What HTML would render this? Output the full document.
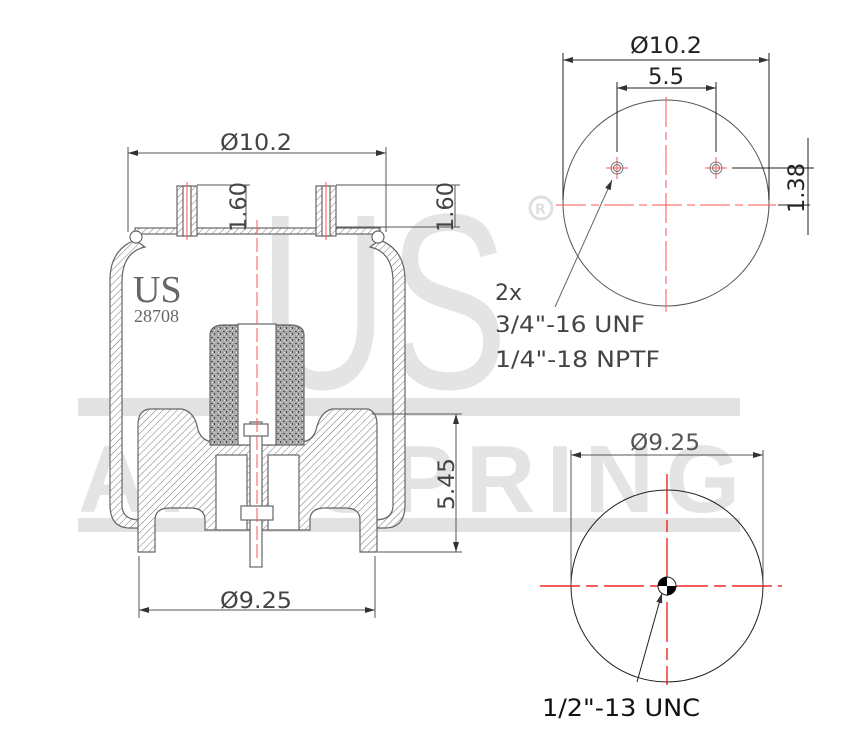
<!DOCTYPE html>
<html><head><meta charset="utf-8"><style>
html,body{margin:0;padding:0;background:#fff}
svg{display:block}
text{font-family:"DejaVu Sans","Liberation Sans",sans-serif}
</style></head><body>
<svg width="850" height="750" viewBox="0 0 850 750" xmlns="http://www.w3.org/2000/svg">
<defs>
<pattern id="h" width="5" height="5" patternUnits="userSpaceOnUse" patternTransform="rotate(45)">
<rect width="5" height="5" fill="#fff"/><line x1="0" y1="0" x2="0" y2="5" stroke="#777" stroke-width="1"/>
</pattern>
<pattern id="n" width="6" height="6" patternUnits="userSpaceOnUse">
<rect width="6" height="6" fill="#aaa"/><rect x="1" y="1" width="2" height="1" fill="#555"/><rect x="4" y="3" width="1" height="2" fill="#444"/><rect x="2" y="4" width="1" height="1" fill="#eee"/><rect x="4" y="0" width="1" height="1" fill="#ddd"/>
</pattern>
<marker id="a" viewBox="0 0 10 6" refX="10" refY="3" markerWidth="10" markerHeight="6" orient="auto-start-reverse" markerUnits="userSpaceOnUse"><path d="M0,0 L10,3 L0,6 z" fill="#333"/></marker>
</defs>

<!-- watermark -->
<g fill="#e2e2e2" stroke="none">
<text x="258" y="388" font-size="250" style="font-family:'Liberation Sans',sans-serif" fill="#e4e4e4" textLength="250" lengthAdjust="spacingAndGlyphs">US</text>
<rect x="78" y="398" width="662" height="18"/>
<rect x="78" y="518" width="662" height="14"/>
<text x="78" y="512" font-size="96" style="font-family:'Liberation Sans',sans-serif" font-weight="bold" fill="#e4e4e4" textLength="662" lengthAdjust="spacing">AIR SPRING</text>
</g>
<circle cx="541" cy="208" r="11" fill="none" stroke="#e0e0e0" stroke-width="3"/>
<text x="535" y="214" font-size="14" fill="#e0e0e0" font-weight="bold">R</text>

<!-- side view -->
<g stroke="#666" stroke-width="1.2">
<path d="M135,240 Q110,250 110,280 L110,505 Q110,528 130,528 L140,528 L140,520 Q122,520 122,505 L122,282 Q122,252 145,247 Z" fill="url(#h)"/>
<path d="M380,240 Q405,250 405,280 L405,505 Q405,528 385,528 L375,528 L375,520 Q393,520 393,505 L393,282 Q393,252 370,247 Z" fill="url(#h)"/>
<rect x="135" y="228" width="245" height="6" fill="url(#h)"/>
<circle cx="136" cy="237" r="6" fill="#fff"/><circle cx="378" cy="237" r="6" fill="#fff"/>
<rect x="177" y="186" width="20" height="50" fill="url(#h)"/>
<rect x="316" y="186" width="20" height="50" fill="url(#h)"/>
<rect x="183" y="186" width="8" height="50" fill="#fff"/>
<rect x="322" y="186" width="8" height="50" fill="#fff"/>
<path d="M150,409 L182,409 Q195,412 198,430 Q202,442 215,442 L300,442 Q312,442 316,430 Q320,412 332,409 L368,409 Q377,412 377,425 L377,552 L360,552 L360,520 Q360,508 345,508 L325,508 Q310,508 310,520 L310,530 L205,530 L205,520 Q205,508 190,508 L170,508 Q155,508 155,520 L155,552 L138,552 L138,425 Q138,410 150,409 Z" fill="url(#h)"/>
<rect x="216" y="455" width="31" height="75" fill="#fff"/>
<rect x="268" y="455" width="31" height="75" fill="#fff"/>
<path d="M210,445 L210,335 Q210,326 222,325 L292,325 Q304,326 304,335 L304,445 Z" fill="url(#n)"/>
<rect x="238" y="324" width="38" height="121" fill="#fff"/>
<rect x="250" y="422" width="12" height="145" fill="#fff"/>
<rect x="241" y="506" width="32" height="14" fill="#fff"/>
<rect x="244" y="424" width="24" height="12" fill="#fff"/>
</g>
<g stroke="#f55" stroke-width="1">
<line x1="257" y1="220" x2="257" y2="560" stroke-dasharray="14,4"/>
<line x1="187" y1="182" x2="187" y2="240"/><line x1="326" y1="182" x2="326" y2="240"/>
</g>
<text x="133" y="302" style="font-family:'Liberation Serif',serif" font-size="38" fill="#666">US</text>
<text x="134" y="322" style="font-family:'Liberation Serif',serif" font-size="18" fill="#666">28708</text>

<g stroke="#555" stroke-width="1" fill="none">
<line x1="128" y1="147" x2="128" y2="232"/><line x1="386" y1="147" x2="386" y2="232"/>
<line x1="128" y1="153" x2="386" y2="153" marker-start="url(#a)" marker-end="url(#a)"/>
<line x1="197" y1="185" x2="250" y2="185"/><line x1="246" y1="185" x2="246" y2="227"/>
<line x1="336" y1="185" x2="460" y2="185"/><line x1="336" y1="227" x2="460" y2="227"/><line x1="455" y1="185" x2="455" y2="227"/>
<line x1="372" y1="414" x2="462" y2="414"/><line x1="378" y1="552" x2="462" y2="552"/>
<line x1="456" y1="414" x2="456" y2="552" marker-start="url(#a)" marker-end="url(#a)"/>
<line x1="139" y1="556" x2="139" y2="618"/><line x1="375" y1="556" x2="375" y2="618"/>
<line x1="139" y1="610" x2="375" y2="610" marker-start="url(#a)" marker-end="url(#a)"/>
</g>
<g fill="#444" font-size="22">
<text x="220" y="150" textLength="72" lengthAdjust="spacingAndGlyphs">Ø10.2</text>
<text x="220" y="608" textLength="72" lengthAdjust="spacingAndGlyphs">Ø9.25</text>
<text transform="translate(454,510) rotate(-90)" textLength="52" lengthAdjust="spacingAndGlyphs">5.45</text>
<text transform="translate(453,232) rotate(-90)" textLength="50" lengthAdjust="spacingAndGlyphs">1.60</text>
<text transform="translate(246,232) rotate(-90)" textLength="50" lengthAdjust="spacingAndGlyphs">1.60</text>
</g>

<!-- top circle view -->
<circle cx="666" cy="203" r="103" fill="none" stroke="#555" stroke-width="1"/>
<g stroke="#f55" stroke-width="1">
<line x1="666" y1="97" x2="666" y2="312" stroke-dasharray="30,5,8,5"/>
<line x1="556" y1="205" x2="776" y2="205" stroke-dasharray="30,5,8,5"/>
<line x1="606" y1="168" x2="628" y2="168"/><line x1="617" y1="157" x2="617" y2="179"/>
<line x1="705" y1="168" x2="727" y2="168"/><line x1="716" y1="157" x2="716" y2="179"/>
</g>
<g fill="none" stroke="#777"><circle cx="617" cy="168" r="6"/><circle cx="617" cy="168" r="3.5"/><circle cx="716" cy="168" r="6"/><circle cx="716" cy="168" r="3.5"/></g>
<g stroke="#222" stroke-width="1" fill="none">
<line x1="563" y1="53" x2="563" y2="200"/><line x1="769" y1="53" x2="769" y2="200"/>
<line x1="563" y1="60" x2="769" y2="60" marker-start="url(#a)" marker-end="url(#a)"/>
<line x1="617" y1="82" x2="617" y2="152"/><line x1="716" y1="82" x2="716" y2="152"/>
<line x1="617" y1="88" x2="716" y2="88" marker-start="url(#a)" marker-end="url(#a)"/>
<line x1="732" y1="168" x2="814" y2="168"/><line x1="778" y1="205" x2="810" y2="205"/>
<line x1="808" y1="138" x2="808" y2="235"/>
<line x1="555" y1="307" x2="612" y2="180" stroke="#666" marker-end="url(#a)"/>
</g>
<g font-size="22" fill="#222">
<text x="630" y="53" textLength="72" lengthAdjust="spacingAndGlyphs">Ø10.2</text>
<text x="648" y="84" textLength="36" lengthAdjust="spacingAndGlyphs">5.5</text>
<text transform="translate(804,213) rotate(-90)" textLength="50" lengthAdjust="spacingAndGlyphs">1.38</text>
</g>
<g font-size="22" fill="#444">
<text x="495" y="300" textLength="27" lengthAdjust="spacingAndGlyphs">2x</text>
<text x="495" y="332" textLength="150" lengthAdjust="spacingAndGlyphs">3/4"-16 UNF</text>
<text x="495" y="367" textLength="165" lengthAdjust="spacingAndGlyphs">1/4"-18 NPTF</text>
</g>

<!-- bottom circle view -->
<circle cx="667" cy="586" r="96" fill="none" stroke="#222" stroke-width="1"/>
<g stroke="#e00" stroke-width="1.2">
<line x1="540" y1="586" x2="782" y2="586" stroke-dasharray="40,6,12,6"/>
<line x1="667" y1="474" x2="667" y2="685" stroke-dasharray="40,6,12,6"/>
</g>
<circle cx="667" cy="586" r="9" fill="#fff" stroke="#222"/>
<path d="M667,586 L658,586 A9,9 0 0 1 667,577 Z" fill="#000"/>
<path d="M667,586 L676,586 A9,9 0 0 1 667,595 Z" fill="#000"/>
<g stroke="#555" stroke-width="1" fill="none">
<line x1="571" y1="450" x2="571" y2="586"/><line x1="763" y1="450" x2="763" y2="586"/>
<line x1="571" y1="455" x2="763" y2="455" marker-start="url(#a)" marker-end="url(#a)"/>
<line x1="637" y1="682" x2="662" y2="593" stroke="#222" marker-end="url(#a)"/>
</g>
<text x="630" y="450" font-size="22" fill="#555" textLength="70" lengthAdjust="spacingAndGlyphs">Ø9.25</text>
<text x="542" y="716" font-size="24" fill="#111" textLength="158" lengthAdjust="spacingAndGlyphs">1/2"-13 UNC</text>
</svg>
</body></html>
